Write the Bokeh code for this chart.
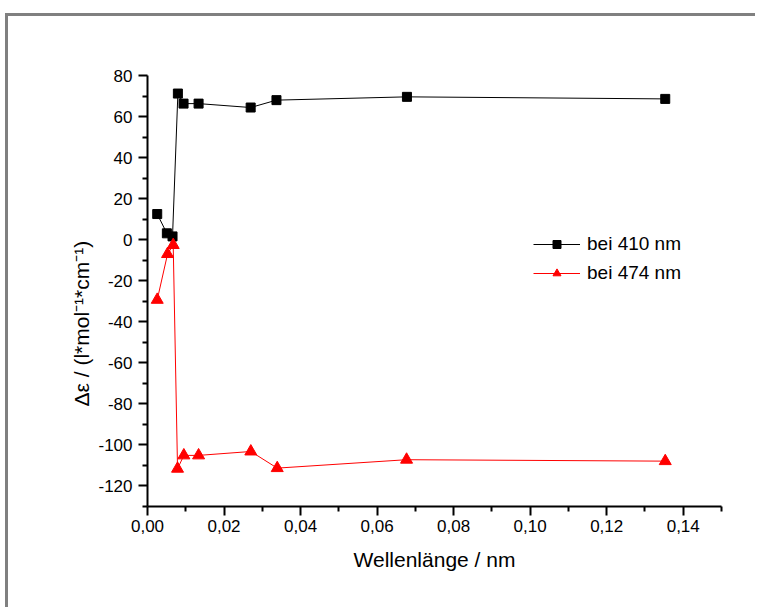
from bokeh.plotting import figure
from bokeh.models import (FixedTicker, CustomJSTickFormatter, Legend, LegendItem,
                          Title, Range1d)
from bokeh.embed import file_html
from bokeh.resources import INLINE

# ---- data ----
x_410 = [0.00254, 0.00506, 0.00654, 0.00794, 0.00942, 0.01335, 0.02696, 0.0337, 0.0678, 0.1353]
y_410 = [12.5, 3.1, 1.6, 71.2, 66.3, 66.3, 64.4, 68.0, 69.6, 68.6]
x_474 = [0.00254, 0.00524, 0.00672, 0.00785, 0.0095, 0.01335, 0.0270, 0.0339, 0.0677, 0.1353]
y_474 = [-29.3, -7.0, -2.6, -111.6, -105.1, -105.1, -103.2, -111.3, -107.2, -107.9]

series_labels = ["bei 410 nm", "bei 474 nm"]
x_title = "Wellenlänge / nm"
y_title = "Δε / (l*mol⁻¹*cm⁻¹)"

x_major = [0.0, 0.02, 0.04, 0.06, 0.08, 0.10, 0.12, 0.14]
x_minor = [0.01, 0.03, 0.05, 0.07, 0.09, 0.11, 0.13, 0.15]
y_major = [-120, -100, -80, -60, -40, -20, 0, 20, 40, 60, 80]
y_minor = [-130, -110, -90, -70, -50, -30, -10, 10, 30, 50, 70]

FONT = "Liberation Sans"

p = figure(width=750, height=594, output_backend="svg", toolbar_location=None,
           x_range=Range1d(0, 0.15), y_range=Range1d(-130, 80),
           min_border_left=139, min_border_right=37, min_border_top=59,
           min_border_bottom=104)
p.styles = {"margin-top": "13px", "margin-left": "5px",
            "border-left": "3px solid #808080",
            "border-top": "3px solid #808080"}
p.outline_line_color = None
p.grid.visible = False
p.background_fill_color = "white"
p.border_fill_color = "white"

for ax in (p.xaxis[0], p.yaxis[0]):
    ax.axis_line_width = 2
    ax.axis_line_color = "black"
    ax.major_tick_line_width = 2
    ax.minor_tick_line_width = 2
    ax.major_tick_out = 9
    ax.major_tick_in = 0
    ax.minor_tick_out = 5
    ax.minor_tick_in = 0
    ax.major_label_text_font = FONT
    ax.major_label_text_font_size = "17px"
    ax.major_label_text_color = "black"
    ax.axis_label_text_font = FONT
    ax.axis_label_text_font_size = "21px"
    ax.axis_label_text_font_style = "normal"
    ax.axis_label_text_color = "black"

p.xaxis.ticker = FixedTicker(ticks=x_major, minor_ticks=x_minor)
p.yaxis.ticker = FixedTicker(ticks=y_major, minor_ticks=y_minor)
p.xaxis.formatter = CustomJSTickFormatter(code="return tick.toFixed(2).replace('.', ',');")
p.yaxis.formatter = CustomJSTickFormatter(code="return Math.round(tick).toString();")
p.xaxis.major_label_standoff = 4
p.yaxis.major_label_standoff = 6
p.xaxis.axis_label = x_title
p.xaxis.axis_label_standoff = 13

l1 = p.line(x_410, y_410, line_color="black", line_width=1)
s1 = p.scatter(x_410, y_410, marker="square", size=9, fill_color="black", line_color="black")
l2 = p.line(x_474, y_474, line_color="#FF0000", line_width=1)
s2 = p.scatter(x_474, y_474, marker="triangle", size=12, fill_color="#FF0000", line_color="#FF0000")

legend = Legend(items=[LegendItem(label=series_labels[0], renderers=[l1, s1]),
                       LegendItem(label=series_labels[1], renderers=[l2, s2])],
                location=(386, 222), glyph_width=47, glyph_height=20,
                label_standoff=7, spacing=7, padding=0, margin=0,
                border_line_color=None, background_fill_alpha=0,
                label_text_font=FONT, label_text_font_size="19px",
                label_text_color="black")
p.add_layout(legend)

ytitle = Title(text=y_title, align="left", offset=100, standoff=6,
               text_font=FONT, text_font_size="21px", text_font_style="normal",
               text_color="black")
p.add_layout(ytitle, "left")

open("out.html", "w").write(file_html(p, INLINE))
